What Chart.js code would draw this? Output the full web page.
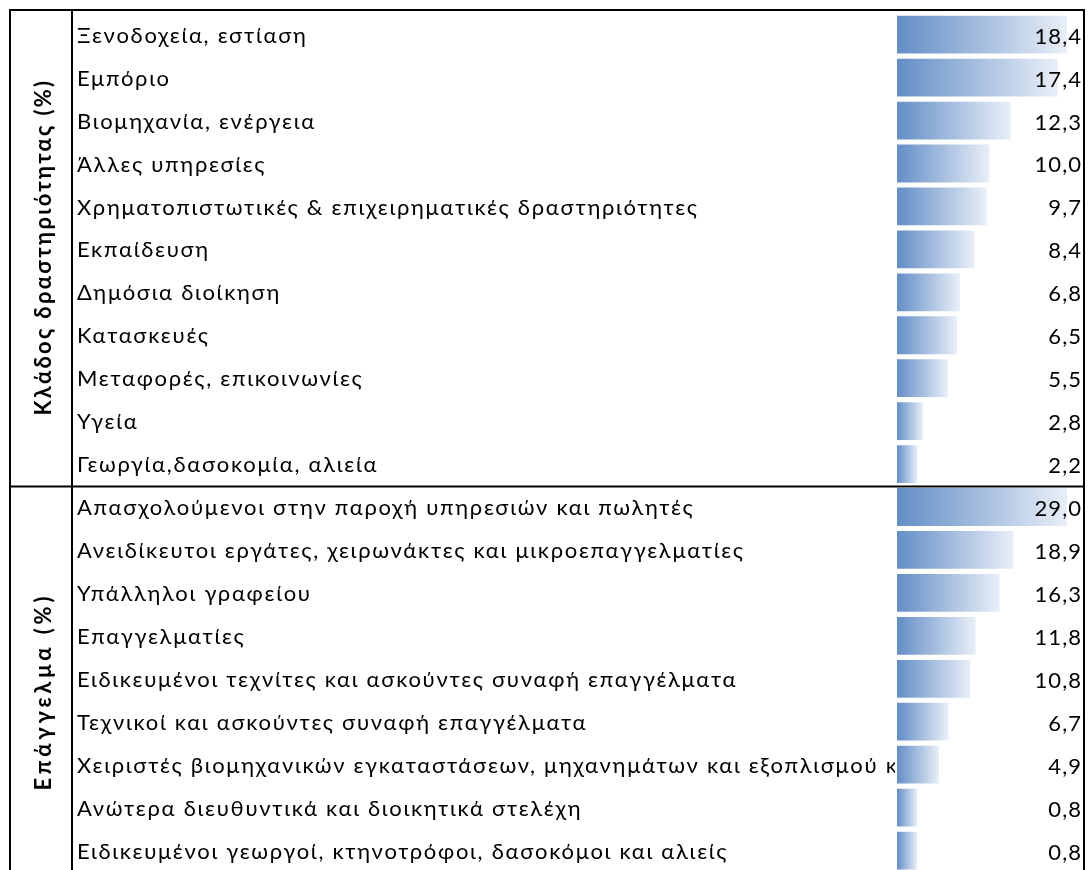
<!DOCTYPE html>
<html><head><meta charset="utf-8">
<script src="https://cdn.jsdelivr.net/npm/chart.js@4.4.1/dist/chart.umd.min.js"></script>
<style>html,body{margin:0;padding:0;overflow:hidden;background:#fff}#wrap{width:1088px;height:870px;overflow:hidden}</style>
</head><body><div id="wrap"><canvas id="c" width="1088" height="900"></canvas></div>
<script>
// ---- data ----
const groupTitles = ['Κλάδος δραστηριότητας (%)', 'Επάγγελμα (%)'];
const sectorLabels = ['Ξενοδοχεία, εστίαση','Εμπόριο','Βιομηχανία, ενέργεια','Άλλες υπηρεσίες',
  'Χρηματοπιστωτικές & επιχειρηματικές δραστηριότητες','Εκπαίδευση','Δημόσια διοίκηση','Κατασκευές',
  'Μεταφορές, επικοινωνίες','Υγεία','Γεωργία,δασοκομία, αλιεία'];
const sectorValues = [18.4,17.4,12.3,10.0,9.7,8.4,6.8,6.5,5.5,2.8,2.2];
const occupationLabels = ['Απασχολούμενοι στην παροχή υπηρεσιών και πωλητές',
  'Ανειδίκευτοι εργάτες, χειρωνάκτες και μικροεπαγγελματίες','Υπάλληλοι γραφείου','Επαγγελματίες',
  'Ειδικευμένοι τεχνίτες και ασκούντες συναφή επαγγέλματα','Τεχνικοί και ασκούντες συναφή επαγγέλματα',
  'Χειριστές βιομηχανικών εγκαταστάσεων, μηχανημάτων και εξοπλισμού και συναρμολογητές',
  'Ανώτερα διευθυντικά και διοικητικά στελέχη','Ειδικευμένοι γεωργοί, κτηνοτρόφοι, δασοκόμοι και αλιείς'];
const occupationValues = [29.0,18.9,16.3,11.8,10.8,6.7,4.9,0.8,0.8];

// ---- styles ----
const FONT = 'Lato';
const LABEL_SIZE = 22, LABEL_SPACING = 1.7;
const VALUE_SIZE = 22, VALUE_SPACING = 1.1;
const TITLE_SIZE = 22, TITLE_LENGTHS = [337, 198];
const X1_MIN = 0, X1_MAX = 20.25;
const X2_MIN = -3.0, X2_MAX = 32.2;
const C_DARK = 'rgb(99,142,198)', C_LIGHT = 'rgb(233,239,248)';

const allLabels = sectorLabels.concat(occupationLabels);
const nS = sectorLabels.length, nO = occupationLabels.length;
const ds1 = sectorValues.concat(new Array(nO).fill(null));
const ds2 = new Array(nS).fill(null).concat(occupationValues);

function gradFill(axisId, base) {
  return (ctx) => {
    const chart = ctx.chart, sc = chart.scales[axisId];
    if (!sc || ctx.raw == null) return C_DARK;
    const x0 = sc.getPixelForValue(base), x1 = sc.getPixelForValue(ctx.raw);
    if (!isFinite(x0) || !isFinite(x1) || x1 <= x0) return C_DARK;
    const g = chart.ctx.createLinearGradient(x0, 0, x1, 0);
    g.addColorStop(0, C_DARK); g.addColorStop(1, C_LIGHT);
    return g;
  };
}

const tablePlugin = {
  id: 'table',
  beforeDraw(chart) {
    chart.ctx.letterSpacing = LABEL_SPACING + 'px';
    const y = chart.scales.y;
    if (y && !y._clipWrapped) {
      const orig = y.drawLabels.bind(y);
      y.drawLabels = function (ca) {
        const c = this.ctx; c.save(); c.beginPath();
        c.rect(0, 0, chart.chartArea.left - 2, chart.height); c.clip();
        orig(ca); c.restore();
      };
      y._clipWrapped = true;
    }
  },
  afterDatasetsDraw(chart) {
    const c = chart.ctx, ca = chart.chartArea;
    c.save();
    c.letterSpacing = VALUE_SPACING + 'px';
    c.font = VALUE_SIZE + 'px ' + FONT; c.fillStyle = '#000'; c.textAlign = 'right'; c.textBaseline = 'alphabetic';
    chart.data.datasets.forEach((ds, di) => {
      const meta = chart.getDatasetMeta(di);
      meta.data.forEach((el, i) => {
        const v = ds.data[i];
        if (v == null) return;
        c.fillText(v.toFixed(1).replace('.', ','), ca.right - 3 + VALUE_SPACING, el.y + 9);
      });
    });
    c.restore();
  },
  afterDraw(chart) {
    const c = chart.ctx, y = chart.scales.y;
    const top = 10, left = 10, right = 1084, sep = 72;
    const divY = (y.getPixelForValue(nS - 1) + y.getPixelForValue(nS)) / 2 + 1;
    const bottom = chart.height + 5;
    c.save();
    c.strokeStyle = '#000'; c.lineWidth = 2;
    c.beginPath();
    c.moveTo(left, bottom); c.lineTo(left, top); c.lineTo(right, top); c.lineTo(right, bottom);
    c.moveTo(sep, top); c.lineTo(sep, bottom);
    c.moveTo(left, divY); c.lineTo(right, divY);
    c.stroke();
    // group titles
    c.font = 'bold ' + TITLE_SIZE + 'px ' + FONT; c.fillStyle = '#000'; c.textAlign = 'center'; c.textBaseline = 'middle';
    const centers = [(top + divY) / 2, divY + 207];
    groupTitles.forEach((t, i) => {
      c.letterSpacing = '0px';
      const natural = c.measureText(t).width;
      const sp = Math.max(0, (TITLE_LENGTHS[i] - natural) / t.length);
      c.letterSpacing = sp + 'px';
      c.save(); c.translate(44, centers[i]); c.rotate(-Math.PI / 2);
      c.fillText(t, sp / 2, 0); c.restore();
    });
    c.restore();
  }
};

new Chart(document.getElementById('c'), {
  type: 'bar',
  data: {
    labels: allLabels,
    datasets: [
      { data: ds1, xAxisID: 'x1', base: X1_MIN, backgroundColor: gradFill('x1', X1_MIN) },
      { data: ds2, xAxisID: 'x2', base: X2_MIN, backgroundColor: gradFill('x2', X2_MIN) }
    ]
  },
  options: {
    indexAxis: 'y',
    responsive: false,
    devicePixelRatio: 1,
    animation: false,
    grouped: false,
    barPercentage: 0.88,
    categoryPercentage: 1,
    layout: { padding: { left: 77, right: 4, top: 10, bottom: 28 } },
    plugins: { legend: { display: false }, tooltip: { enabled: false } },
    scales: {
      y: {
        type: 'category', offset: true,
        grid: { display: false }, border: { display: false },
        ticks: { crossAlign: 'far', color: '#000', padding: 0, autoSkip: false, labelOffset: 1,
                 font: { family: FONT, size: LABEL_SIZE } },
        afterFit: (s) => { s.width = 897 - 77; }
      },
      x1: { type: 'linear', position: 'bottom', display: false, min: X1_MIN, max: X1_MAX },
      x2: { type: 'linear', position: 'bottom', display: false, min: X2_MIN, max: X2_MAX }
    }
  },
  plugins: [tablePlugin]
});
</script></body></html>
